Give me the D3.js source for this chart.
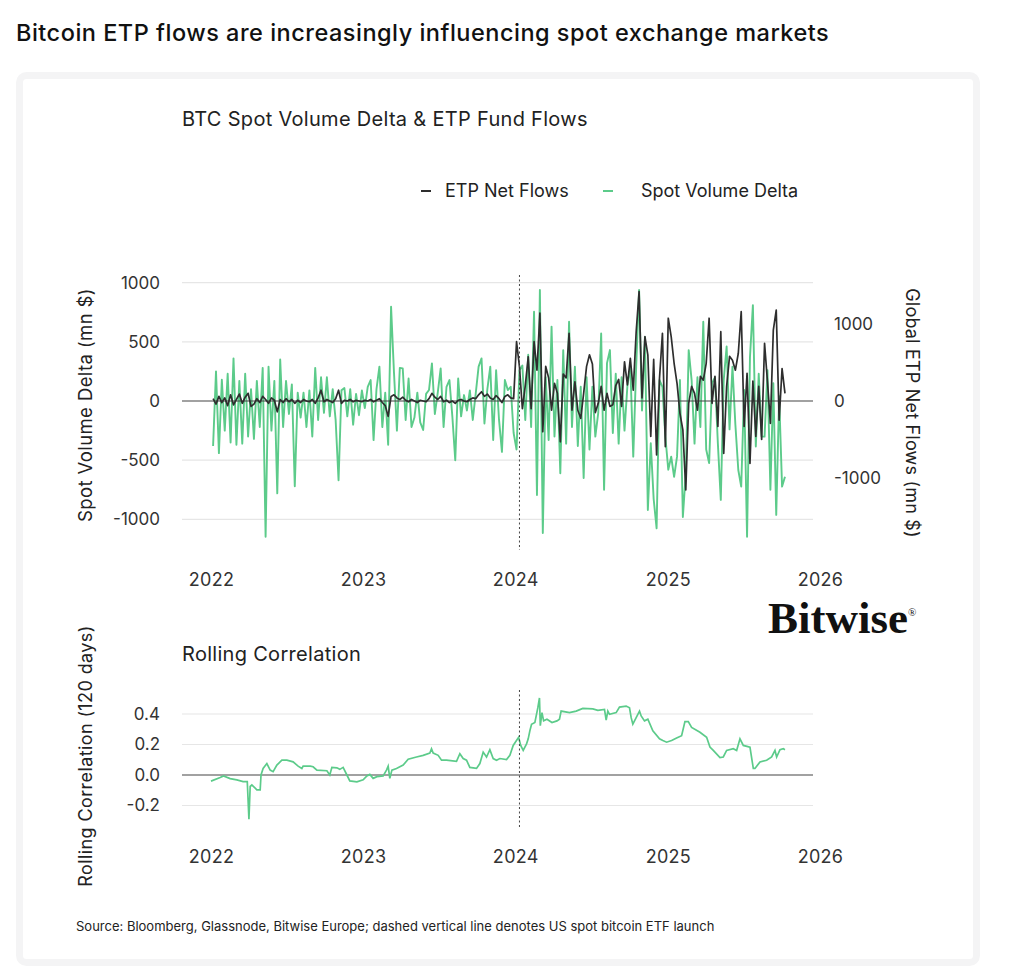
<!DOCTYPE html>
<html>
<head>
<meta charset="UTF-8">
<style>
body { margin: 0; background: #fff; }
svg { display: block; font-family: Inter, "Noto Sans", sans-serif; }
.axis path { display: none; }
.axis text { fill: #333; font-size: 17px; font-family: Inter, "Noto Sans", sans-serif; }
.axis.years text { font-size: 18px; letter-spacing: 0.3px; }
.grid { stroke: #e6e6e6; stroke-width: 1.2; }
</style>
</head>
<body>
<svg width="1024" height="975"></svg>
<script src="https://cdn.jsdelivr.net/npm/d3@7/dist/d3.min.js"></script>
<script>
// weekly samples, starting at this date
var weekStart = "2022-01-06";

// Spot Volume Delta (mn $), left axis
var spotDelta = [
  -380, 250, -440, 180, -250, 230, -350, 360, -370, 170,
  -360, 230, -300, 100, -320, 170, -220, 280, -1146, 290,
  -250, 170, -780, 350, -220, 170, -110, 140, -720, 70,
  -140, 70, -220, 90, -300, 280, -160, 200, -100, 200,
  -130, 100, -160, -670, 90, 110, -130, 100, -200, 60,
  -120, 90, -60, 120, 177, -330, 100, 290, -220, 70,
  -370, 796, 240, -250, 280, 275, -160, 190, -220, -140,
  70, -180, -245, 60, 93, 318, -110, 70, 275, -220,
  120, 177, -130, -500, 190, -130, 50, -80, 90, -160,
  60, 290, 360, -190, 100, 290, -330, 260, -160, -430,
  177, 93, 120, -270, -410, 260, 300, -160, 390, -220,
  754, -794, 937, -1115, 200, -330, 628, -300, 177, -610,
  430, -360, 670, -220, 290, -380, 120, -650, 200, -410,
  120, -301, -100, 570, -750, 320, 430, -270, 230, -360,
  200, -250, 130, 290, -470, 290, 937, -80, 540, -920,
  -357, -830, -1075, 177, 120, -300, -580, -470, -640, -470,
  177, -980, -610, 430, 177, -360, 200, -220, 670, -410,
  -525, 150, 200, -360, -835, 177, 460, -240, 290, -200,
  -583, -723, 93, -1146, 370, 810, -385, 230, -300, -301,
  260, -750, 150, -962, 40, -723, -640
];

// Global ETP Net Flows (mn $), right axis
var etpFlows = [
  30, -40, 60, -20, 40, -60, 80, -50, 20, 90,
  -30, 50, 100, -70, -40, 30, -20, 60, 20, -30,
  40, 10, -140, 20, -20, 30, -10, 20, -30, 10,
  -20, 20, 0, -10, 20, -30, 40, 140, -10, 20,
  0, -20, 30, 140, -30, 10, 0, 20, -10, 10,
  0, -10, 10, 0, 20, -10, 10, 30, -20, -60,
  -200, 60, 80, 40, 20, 50, 10, -10, 20, 0,
  -20, 10, 0, -10, 30, 100, 50, 20, 60, -10,
  10, -20, 0, -30, 10, 20, 0, -10, 20, 40,
  30, 80, 120, 60, 90, 40, 20, 70, 30, -20,
  60, 80, 40, 30, 770, 445, -100, 200, 575, -100,
  770, 400, 1140, -400, 450, 300, -120, 230, 100, -530,
  350, 300, 880, -120, 250, -120, -225, 100, 450, 600,
  480, -150, -30, 190, -120, 100, -70, -50, 200, 280,
  -70, 510, 210, 555, 140, 900, 1420, 40, 835, 600,
  -460, 540, -700, 300, 880, -593, 1075, 835, 490, 230,
  -160, -375, -1155, -30, 190, 100, -120, 320, 270, 490,
  1075, -30, 320, -330, 900, -680, 190, 580, 530, 400,
  620, 1160, -330, 360, -810, 260, -460, 190, -500, 750,
  250, -290, 920, 1180, -250, 420, 100
];

// Rolling correlation (120 days)
var corrDates = [
  "2022-01-01", "2022-01-23", "2022-01-31", "2022-02-16", "2022-03-04", "2022-03-19", "2022-03-29", "2022-04-02",
  "2022-04-05", "2022-04-09", "2022-04-17", "2022-04-21", "2022-04-29", "2022-05-01", "2022-05-06", "2022-05-15",
  "2022-05-23", "2022-05-30", "2022-06-08", "2022-06-20", "2022-07-02", "2022-07-17", "2022-07-29", "2022-08-07",
  "2022-08-10", "2022-08-27", "2022-09-03", "2022-09-12", "2022-10-06", "2022-10-13", "2022-10-18", "2022-10-30",
  "2022-11-06", "2022-11-14", "2022-11-23", "2022-11-30", "2022-12-17", "2023-01-01", "2023-01-10", "2023-01-17",
  "2023-01-25", "2023-02-03", "2023-02-18", "2023-02-26", "2023-03-02", "2023-03-06", "2023-03-11", "2023-03-22",
  "2023-04-07", "2023-04-19", "2023-05-09", "2023-05-25", "2023-06-10", "2023-06-14", "2023-06-18", "2023-06-30",
  "2023-07-08", "2023-07-20", "2023-08-13", "2023-08-21", "2023-08-29", "2023-09-06", "2023-09-14", "2023-09-30",
  "2023-10-08", "2023-10-16", "2023-10-24", "2023-11-01", "2023-11-09", "2023-11-17", "2023-11-25", "2023-12-11",
  "2023-12-19", "2023-12-27", "2024-01-09", "2024-01-14", "2024-01-20", "2024-01-28", "2024-02-01", "2024-02-05",
  "2024-02-09", "2024-02-17", "2024-02-24", "2024-02-28", "2024-03-01", "2024-03-05", "2024-03-09", "2024-03-17",
  "2024-03-29", "2024-04-10", "2024-04-16", "2024-04-20", "2024-05-10", "2024-05-26", "2024-06-11", "2024-07-05",
  "2024-07-17", "2024-08-02", "2024-08-06", "2024-08-10", "2024-08-14", "2024-08-30", "2024-09-07", "2024-09-23",
  "2024-10-01", "2024-10-05", "2024-10-09", "2024-10-17", "2024-10-25", "2024-10-29", "2024-11-06", "2024-11-14",
  "2024-11-26", "2024-12-12", "2024-12-20", "2024-12-29", "2025-01-10", "2025-01-22", "2025-02-03", "2025-02-11",
  "2025-02-19", "2025-02-27", "2025-03-19", "2025-04-04", "2025-04-12", "2025-04-20", "2025-05-06", "2025-05-14",
  "2025-05-22", "2025-06-07", "2025-06-15", "2025-06-23", "2025-07-01", "2025-07-17", "2025-07-25", "2025-07-29",
  "2025-08-10", "2025-08-26", "2025-09-07", "2025-09-15", "2025-09-19", "2025-09-27", "2025-10-05", "2025-10-09"
];
var corrValues = [
  -0.04, -0.017, -0.006, -0.024, -0.032, -0.043, -0.043, -0.29,
  -0.075, -0.065, -0.086, -0.097, -0.097, 0.0, 0.043, 0.075,
  0.032, 0.022, 0.065, 0.097, 0.097, 0.086, 0.058, 0.043,
  0.058, 0.058, 0.054, 0.032, 0.028, 0.0, 0.05, 0.047,
  0.037, 0.05, 0.0, -0.039, -0.045, -0.032, -0.006, 0.004,
  -0.022, -0.011, -0.006, 0.032, 0.058, -0.022, 0.032, 0.043,
  0.065, 0.103, 0.118, 0.129, 0.144, 0.172, 0.144, 0.129,
  0.097, 0.097, 0.09, 0.14, 0.108, 0.097, 0.05, 0.043,
  0.075, 0.15, 0.118, 0.166, 0.108, 0.097, 0.108, 0.101,
  0.129, 0.194, 0.247, 0.194, 0.161, 0.204, 0.237, 0.29,
  0.333, 0.344, 0.44, 0.505, 0.323, 0.409, 0.355, 0.366,
  0.344, 0.355, 0.366, 0.419, 0.409, 0.419, 0.437, 0.434,
  0.424, 0.43, 0.36, 0.419, 0.398, 0.409, 0.445, 0.452,
  0.441, 0.376, 0.333, 0.376, 0.419, 0.387, 0.355, 0.366,
  0.29, 0.237, 0.226, 0.215, 0.226, 0.243, 0.258, 0.35,
  0.35, 0.312, 0.28, 0.247, 0.183, 0.161, 0.114, 0.118,
  0.161, 0.172, 0.161, 0.237, 0.194, 0.183, 0.043, 0.043,
  0.086, 0.097, 0.118, 0.161, 0.118, 0.166, 0.172, 0.166
];

var yearTicks = [2022, 2023, 2024, 2025, 2026];
var leftTicks = [-1000, -500, 0, 500, 1000];
var rightTicks = [-1000, 0, 1000];
var corrTicks = [-0.2, 0, 0.2, 0.4];
var etfLaunch = "2024-01-11";

var parseDate = d3.timeParse("%Y-%m-%d");
var svg = d3.select("svg");
var green = "#5ccb8a", dark = "#2e2e2e";
var plotL = 182, plotR = 813;

// card + titles
svg.append("rect").attr("x", 19.5).attr("y", 75.5).attr("width", 957).attr("height", 887)
  .attr("rx", 7).attr("fill", "#fff").attr("stroke", "#f4f4f5").attr("stroke-width", 7);

svg.append("text").attr("x", 16).attr("y", 41).attr("font-size", 23.5).attr("font-weight", 500)
  .attr("letter-spacing", 0.5).attr("fill", "#111")
  .text("Bitcoin ETP flows are increasingly influencing spot exchange markets");
svg.append("text").attr("x", 182).attr("y", 126).attr("font-size", 20).attr("letter-spacing", 0.3).attr("fill", "#222")
  .text("BTC Spot Volume Delta & ETP Fund Flows");
svg.append("text").attr("x", 182).attr("y", 661).attr("font-size", 20).attr("letter-spacing", 0.3).attr("fill", "#222")
  .text("Rolling Correlation");

// legend
var legend = [
  {name: "ETP Net Flows", color: dark, x: 421, tx: 445},
  {name: "Spot Volume Delta", color: green, x: 603, tx: 641}
];
legend.forEach(function(d) {
  svg.append("line").attr("x1", d.x).attr("x2", d.x + 10).attr("y1", 191).attr("y2", 191)
    .attr("stroke", d.color).attr("stroke-width", 2);
  svg.append("text").attr("x", d.tx).attr("y", 197).attr("font-size", 18).attr("fill", "#222").text(d.name);
});

var x = d3.scaleTime().domain([new Date(2022, 0, 1), new Date(2026, 0, 1)]).range([211, 820]);
var yL = d3.scaleLinear().domain([-1000, 1000]).range([519.4, 282.6]);
var yR = d3.scaleLinear().domain([-1000, 1000]).range([478, 324]);
var yC = d3.scaleLinear().domain([-0.2, 0.4]).range([805.5, 714]);

var t0 = parseDate(weekStart);
var weeks = spotDelta.map(function(v, i) { return d3.timeDay.offset(t0, 7 * i); });
var yearDates = yearTicks.map(function(y) { return new Date(y, 0, 1); });
var plain = function(d) { return String(d); };

// ---- top panel ----
svg.append("g").selectAll("line").data(leftTicks.filter(function(d) { return d !== 0; })).enter().append("line")
  .attr("class", "grid").attr("x1", plotL).attr("x2", plotR)
  .attr("y1", function(d) { return yL(d); }).attr("y2", function(d) { return yL(d); });

svg.append("g").attr("class", "axis").attr("transform", "translate(" + plotL + ",0)")
  .call(d3.axisLeft(yL).tickValues(leftTicks).tickSize(0).tickPadding(22).tickFormat(plain));
svg.append("g").attr("class", "axis").attr("transform", "translate(" + plotR + ",0)")
  .call(d3.axisRight(yR).tickValues(rightTicks).tickSize(0).tickPadding(21).tickFormat(plain));
svg.append("g").attr("class", "axis years").attr("transform", "translate(0,573)")
  .call(d3.axisBottom(x).tickValues(yearDates).tickSize(0).tickPadding(0).tickFormat(d3.timeFormat("%Y")));

svg.append("path").datum(spotDelta).attr("fill", "none").attr("stroke", green).attr("stroke-width", 1.9)
  .attr("stroke-linejoin", "round")
  .attr("d", d3.line().x(function(d, i) { return x(weeks[i]); }).y(function(d) { return yL(d); }));

svg.append("line").attr("x1", plotL).attr("x2", plotR).attr("y1", yL(0)).attr("y2", yL(0))
  .attr("stroke", "#444").attr("stroke-width", 1.2);

svg.append("path").datum(etpFlows).attr("fill", "none").attr("stroke", dark).attr("stroke-width", 1.7)
  .attr("stroke-linejoin", "round")
  .attr("d", d3.line().x(function(d, i) { return x(weeks[i]); }).y(function(d) { return yR(d); }));

svg.append("line").attr("x1", x(parseDate(etfLaunch))).attr("x2", x(parseDate(etfLaunch)))
  .attr("y1", 275).attr("y2", 550).attr("stroke", "#444").attr("stroke-width", 1).attr("stroke-dasharray", "2,2.5");

svg.append("text").attr("transform", "translate(92,405) rotate(-90)").attr("text-anchor", "middle")
  .attr("font-size", 18.5).attr("letter-spacing", 0.4).attr("fill", "#222").text("Spot Volume Delta (mn $)");
svg.append("text").attr("transform", "translate(906,413) rotate(90)").attr("text-anchor", "middle")
  .attr("font-size", 18).attr("letter-spacing", 0.2).attr("fill", "#222").text("Global ETP Net Flows (mn $)");

// logo
svg.append("text").attr("x", 768).attr("y", 633).attr("font-family", "'Liberation Serif', 'DejaVu Serif', serif")
  .attr("font-weight", 700).attr("font-size", 45).attr("fill", "#111").text("Bitwise");
svg.append("text").attr("x", 908).attr("y", 616).attr("font-family", "'Liberation Serif', serif")
  .attr("font-size", 11).attr("fill", "#111").text("®");

// ---- bottom panel ----
svg.append("g").selectAll("line").data(corrTicks.filter(function(d) { return d !== 0; })).enter().append("line")
  .attr("class", "grid").attr("x1", plotL).attr("x2", plotR)
  .attr("y1", function(d) { return yC(d); }).attr("y2", function(d) { return yC(d); });

svg.append("g").attr("class", "axis").attr("transform", "translate(" + plotL + ",0)")
  .call(d3.axisLeft(yC).tickValues(corrTicks).tickSize(0).tickPadding(22)
    .tickFormat(function(d) { return d.toFixed(1); }));
svg.append("g").attr("class", "axis years").attr("transform", "translate(0,850)")
  .call(d3.axisBottom(x).tickValues(yearDates).tickSize(0).tickPadding(0).tickFormat(d3.timeFormat("%Y")));

svg.append("line").attr("x1", plotL).attr("x2", plotR).attr("y1", yC(0)).attr("y2", yC(0))
  .attr("stroke", "#444").attr("stroke-width", 1.2);

svg.append("path").datum(corrValues).attr("fill", "none").attr("stroke", green).attr("stroke-width", 1.7)
  .attr("d", d3.line().x(function(d, i) { return x(parseDate(corrDates[i])); }).y(function(d) { return yC(d); }));

svg.append("line").attr("x1", x(parseDate(etfLaunch))).attr("x2", x(parseDate(etfLaunch)))
  .attr("y1", 690).attr("y2", 827).attr("stroke", "#444").attr("stroke-width", 1).attr("stroke-dasharray", "2,2.5");

svg.append("text").attr("transform", "translate(92,756) rotate(-90)").attr("text-anchor", "middle")
  .attr("font-size", 18).attr("letter-spacing", 0.4).attr("fill", "#222").text("Rolling Correlation (120 days)");

svg.append("text").attr("x", 76).attr("y", 931).attr("font-size", 13).attr("fill", "#222")
  .text("Source: Bloomberg, Glassnode, Bitwise Europe; dashed vertical line denotes US spot bitcoin ETF launch");
</script>
</body>
</html>
